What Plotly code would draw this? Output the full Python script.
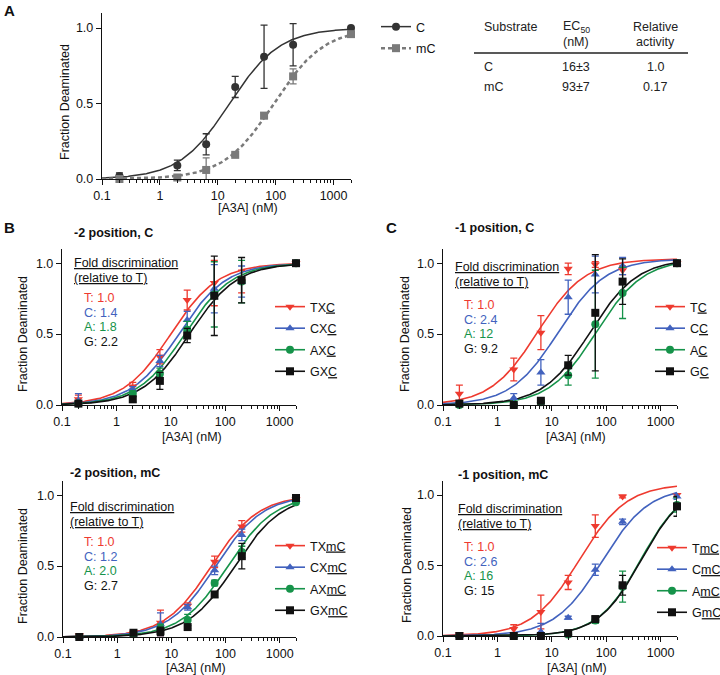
import numpy as np
import plotly.graph_objects as go

W, H = 720, 675
FONT = "Liberation Sans, Arial, sans-serif"
FS = 12.5

# ---------------- data ----------------
conc = [0.2, 2, 6.3, 20, 63, 200, 2000]
x_ticks = [0.1, 1, 10, 100, 1000]
x_ticktext = ["0.1", "1", "10", "100", "1000"]
y_ticks = [0, 0.5, 1.0]
y_ticktext = ["0.0", "0.5", "1.0"]

# Panel A
a_names = ["C", "mC"]
a_C_y = [0.02, 0.09, 0.23, 0.61, 0.81, 0.89, 1.00]
a_C_err = [0.02, 0.035, 0.07, 0.07, 0.21, 0.14, 0.0]
a_mC_y = [0.00, 0.01, 0.06, 0.16, 0.42, 0.68, 0.96]
a_mC_err = [0.01, 0.01, 0.08, 0.01, 0.02, 0.05, 0.01]
a_ec50 = [16, 93]
a_top = [1.0, 1.0]
a_hill = [1.0, 1.0]

table_substrate = ["C", "mC"]
table_ec50 = ["16±3", "93±7"]
table_rel = ["1.0", "0.17"]

# Panel B top: -2 position, C
b1_names = ["TX<u>C</u>", "CX<u>C</u>", "AX<u>C</u>", "GX<u>C</u>"]
b1_T = [0.04, 0.13, 0.34, 0.74, 0.86, 0.87, 1.00]
b1_C = [0.03, 0.11, 0.31, 0.60, 0.82, 0.87, 1.00]
b1_A = [0.01, 0.08, 0.22, 0.53, 0.78, 0.87, 1.00]
b1_G = [0.01, 0.04, 0.17, 0.49, 0.77, 0.88, 1.00]
b1_T_err = [0.03, 0.03, 0.05, 0.07, 0.16, 0.08, 0.0]
b1_C_err = [0.05, 0.02, 0.04, 0.06, 0.17, 0.11, 0.0]
b1_A_err = [0.01, 0.02, 0.04, 0.06, 0.23, 0.15, 0.0]
b1_G_err = [0.01, 0.02, 0.06, 0.05, 0.28, 0.16, 0.0]
b1_ec50 = [10, 14, 18, 22]
b1_top = [1.0, 1.0, 1.0, 1.0]
b1_hill = [1.0, 1.0, 1.0, 1.0]
b1_fold = ["T: 1.0", "C: 1.4", "A: 1.8", "G: 2.2"]

# Panel C top: -1 position, C
c1_names = ["T<u>C</u>", "C<u>C</u>", "A<u>C</u>", "G<u>C</u>"]
c1_T = [0.08, 0.25, 0.51, 0.96, 0.99, 0.95, 1.00]
c1_C = [0.01, 0.05, 0.23, 0.76, 0.92, 0.98, 1.00]
c1_A = [0.00, 0.00, 0.02, 0.21, 0.57, 0.79, 1.00]
c1_G = [0.01, 0.00, 0.03, 0.28, 0.65, 0.87, 1.00]
c1_T_err = [0.06, 0.08, 0.12, 0.04, 0.02, 0.03, 0.0]
c1_C_err = [0.01, 0.03, 0.09, 0.12, 0.13, 0.06, 0.0]
c1_A_err = [0.0, 0.0, 0.01, 0.07, 0.38, 0.18, 0.0]
c1_G_err = [0.0, 0.0, 0.01, 0.07, 0.41, 0.16, 0.0]
c1_ec50 = [5.5, 13.2, 66, 51]
c1_top = [1.03, 1.03, 1.03, 1.03]
c1_hill = [1.0, 1.0, 1.0, 1.0]
c1_fold = ["T: 1.0", "C: 2.4", "A: 12", "G: 9.2"]

# Panel B bottom: -2 position, mC
b2_names = ["TX<u>mC</u>", "CX<u>mC</u>", "AX<u>mC</u>", "GX<u>mC</u>"]
b2_T = [0.01, 0.03, 0.10, 0.22, 0.53, 0.78, 0.97]
b2_C = [0.00, 0.01, 0.09, 0.21, 0.47, 0.72, 0.97]
b2_A = [0.00, 0.02, 0.06, 0.12, 0.38, 0.60, 0.95]
b2_G = [0.00, 0.03, 0.04, 0.07, 0.30, 0.57, 0.98]
b2_T_err = [0.01, 0.01, 0.09, 0.02, 0.04, 0.04, 0.01]
b2_C_err = [0.01, 0.01, 0.08, 0.02, 0.03, 0.04, 0.01]
b2_A_err = [0.0, 0.01, 0.03, 0.04, 0.02, 0.04, 0.02]
b2_G_err = [0.0, 0.01, 0.03, 0.01, 0.02, 0.09, 0.02]
b2_ec50 = [55, 66, 110, 148]
b2_top = [1.0, 1.0, 1.0, 1.0]
b2_hill = [1.0, 1.0, 1.0, 1.0]
b2_fold = ["T: 1.0", "C: 1.2", "A: 2.0", "G: 2.7"]

# Panel C bottom: -1 position, mC
c2_names = ["T<u>mC</u>", "C<u>mC</u>", "A<u>mC</u>", "G<u>mC</u>"]
c2_T = [0.01, 0.05, 0.17, 0.38, 0.78, 0.99, 1.00]
c2_C = [0.00, 0.00, 0.03, 0.13, 0.47, 0.81, 0.99]
c2_A = [0.00, 0.00, 0.00, 0.01, 0.11, 0.35, 0.93]
c2_G = [0.00, 0.00, 0.00, 0.02, 0.12, 0.36, 0.92]
c2_T_err = [0.01, 0.03, 0.12, 0.05, 0.08, 0.01, 0.01]
c2_C_err = [0.0, 0.0, 0.06, 0.01, 0.04, 0.02, 0.02]
c2_A_err = [0.0, 0.0, 0.0, 0.01, 0.02, 0.11, 0.05]
c2_G_err = [0.0, 0.0, 0.0, 0.02, 0.02, 0.07, 0.07]
c2_ec50 = [32, 83, 430, 440]
c2_top = [1.08, 1.06, 1.08, 1.08]
c2_hill = [1.0, 1.0, 1.1, 1.1]
c2_fold = ["T: 1.0", "C: 2.6", "A: 16", "G: 15"]

# ---------------- style ----------------
COLORS = ["#EE3A2F", "#4262BE", "#16934A", "#111111"]
SYMBOLS = ["triangle-down", "triangle-up", "circle", "square"]
A_COLORS = ["#333333", "#7A7A7A"]
A_SYMBOLS = ["circle", "square"]
A_DASH = ["solid", "4px,3px"]
minor_ticks = [m * 10.0 ** k for k in range(-1, 4) for m in range(2, 10) if m * 10.0 ** k <= 2000]


def px_x(p):
    return p / W


def px_y(p):
    return 1 - p / H


def hill(x, ec50, top, n):
    return top * x ** n / (x ** n + ec50 ** n)


xfit = np.logspace(-1, np.log10(2000), 300)

fig = go.Figure()

panels = [
    dict(ax="", xd=(102, 351), yd=(13, 179), legend="legend",
         names=a_names, ys=[a_C_y, a_mC_y], errs=[a_C_err, a_mC_err],
         ec50=a_ec50, top=a_top, n=a_hill, colors=A_COLORS, symbols=A_SYMBOLS,
         dash=A_DASH, lw=[1.5, 2.5], leg=(376, 12)),
    dict(ax="2", xd=(62, 296), yd=(249, 405), legend="legend2",
         names=b1_names, ys=[b1_T, b1_C, b1_A, b1_G],
         errs=[b1_T_err, b1_C_err, b1_A_err, b1_G_err],
         ec50=b1_ec50, top=b1_top, n=b1_hill, colors=COLORS, symbols=SYMBOLS,
         dash=["solid"] * 4, lw=[1.6] * 4, leg=(270, 292)),
    dict(ax="3", xd=(443, 677), yd=(249, 405), legend="legend3",
         names=c1_names, ys=[c1_T, c1_C, c1_A, c1_G],
         errs=[c1_T_err, c1_C_err, c1_A_err, c1_G_err],
         ec50=c1_ec50, top=c1_top, n=c1_hill, colors=COLORS, symbols=SYMBOLS,
         dash=["solid"] * 4, lw=[1.6] * 4, leg=(650, 292)),
    dict(ax="4", xd=(63, 296), yd=(481, 637), legend="legend4",
         names=b2_names, ys=[b2_T, b2_C, b2_A, b2_G],
         errs=[b2_T_err, b2_C_err, b2_A_err, b2_G_err],
         ec50=b2_ec50, top=b2_top, n=b2_hill, colors=COLORS, symbols=SYMBOLS,
         dash=["solid"] * 4, lw=[1.6] * 4, leg=(270, 531)),
    dict(ax="5", xd=(443, 677), yd=(481, 636), legend="legend5",
         names=c2_names, ys=[c2_T, c2_C, c2_A, c2_G],
         errs=[c2_T_err, c2_C_err, c2_A_err, c2_G_err],
         ec50=c2_ec50, top=c2_top, n=c2_hill, colors=COLORS, symbols=SYMBOLS,
         dash=["solid"] * 4, lw=[1.6] * 4, leg=(652, 533)),
]

axis_common = dict(showline=True, linecolor="#111111", linewidth=1.4,
                   ticks="outside", ticklen=5, tickwidth=1.3, tickcolor="#111111",
                   showgrid=False, zeroline=False, automargin=False,
                   tickfont=dict(family=FONT, size=FS, color="#111111"))

for p in panels:
    ax = p["ax"]
    xa, ya = "x" + ax, "y" + ax
    fig.update_layout({
        "xaxis" + ax: dict(axis_common, type="log", domain=[px_x(p["xd"][0]), px_x(p["xd"][1])],
                           range=[-1, np.log10(2000)], anchor=ya,
                           tickvals=x_ticks, ticktext=x_ticktext,
                           minor=dict(ticks="outside", ticklen=3, tickwidth=1, tickcolor="#111111",
                                      tickvals=minor_ticks, showgrid=False)),
        "yaxis" + ax: dict(axis_common, domain=[px_y(p["yd"][1]), px_y(p["yd"][0])],
                           range=[0, 1.1], anchor=xa,
                           tickvals=y_ticks, ticktext=y_ticktext),
    })
    for i in range(len(p["names"])):
        fig.add_trace(go.Scatter(
            x=xfit, y=hill(xfit, p["ec50"][i], p["top"][i], p["n"][i]),
            mode="lines", line=dict(color=p["colors"][i], width=p["lw"][i], dash=p["dash"][i]),
            xaxis=xa, yaxis=ya, showlegend=False, hoverinfo="skip"))
    for i in range(len(p["names"])):
        fig.add_trace(go.Scatter(
            x=conc, y=p["ys"][i], mode="markers",
            marker=dict(symbol=p["symbols"][i], size=8, color=p["colors"][i], line=dict(width=0)),
            error_y=dict(type="data", array=p["errs"][i], color=p["colors"][i],
                         thickness=1.3, width=3.5),
            xaxis=xa, yaxis=ya, showlegend=False, cliponaxis=False))
    for i in range(len(p["names"])):
        fig.add_trace(go.Scatter(
            x=[None], y=[None], mode="lines+markers", name=p["names"][i],
            line=dict(color=p["colors"][i], width=p["lw"][i], dash=p["dash"][i]),
            marker=dict(symbol=p["symbols"][i], size=8, color=p["colors"][i]),
            xaxis=xa, yaxis=ya, legend=p["legend"], legendgroup=p["legend"] + str(i),
            showlegend=True))
    fig.update_layout({
        p["legend"]: dict(x=px_x(p["leg"][0]), y=px_y(p["leg"][1]), xanchor="left", yanchor="top",
                          bgcolor="rgba(0,0,0,0)", borderwidth=0, tracegroupgap=2.3,
                          itemwidth=30,
                          font=dict(family=FONT, size=FS, color="#111111"))
    })

annotations = []


def txt(text, x, y, size=FS, color="#111111", xanchor="left", bold=False, angle=0):
    if bold:
        text = "<b>" + text + "</b>"
    annotations.append(dict(text=text, x=px_x(x), y=px_y(y), xref="paper", yref="paper",
                            xanchor=xanchor, yanchor="middle", showarrow=False, textangle=angle,
                            font=dict(family=FONT, size=size, color=color)))


txt("A", 2, 11, size=15, bold=True)
txt("B", 2, 228, size=15, bold=True)
txt("C", 384, 227, size=15, bold=True)
txt("-2 position, C", 72, 233, bold=True)
txt("-1 position, C", 453, 228, bold=True)
txt("-2 position, mC", 68, 473, bold=True)
txt("-1 position, mC", 456, 475, bold=True)
for (cx, cy) in [(248, 208), (192, 437), (576, 437), (196, 668), (577, 668)]:
    txt("[A3A] (nM)", cx, cy, xanchor="center")
for (cx, cy) in [(65, 102), (23, 334), (405, 334), (23, 566), (407, 565)]:
    txt("Fraction Deaminated", cx, cy, xanchor="center", angle=-90)

fold_blocks = [(72, 263, 82, 298, b1_fold), (453, 267, 462, 305, c1_fold),
               (68, 507, 82, 542, b2_fold), (456, 509, 462, 547, c2_fold)]
for (hx, hy, fx, fy, folds) in fold_blocks:
    txt("<u>Fold discrimination</u>", hx, hy)
    txt("<u>(relative to T)</u>", hx, hy + 14.5)
    for i, f in enumerate(folds):
        txt(f, fx, fy + 14.7 * i, color=COLORS[i])

txt("Substrate", 482, 27, color="#222222")
txt("EC<sub>50</sub>", 576, 27, xanchor="center", color="#222222")
txt("(nM)", 576, 42, xanchor="center", color="#222222")
txt("Relative", 655, 27, xanchor="center", color="#222222")
txt("activity", 655, 42, xanchor="center", color="#222222")
for i in range(len(table_substrate)):
    txt(table_substrate[i], 482, 67 + 20 * i, color="#222222")
    txt(table_ec50[i], 576, 67 + 20 * i, xanchor="center", color="#222222")
    txt(table_rel[i], 655, 67 + 20 * i, xanchor="center", color="#222222")

fig.update_layout(
    width=W, height=H, margin=dict(l=0, r=0, t=0, b=0, autoexpand=False),
    paper_bgcolor="white", plot_bgcolor="white",
    font=dict(family=FONT, size=FS, color="#111111"),
    annotations=annotations,
    shapes=[dict(type="line", xref="paper", yref="paper", x0=px_x(474), x1=px_x(688),
                 y0=px_y(53), y1=px_y(53), line=dict(color="#222222", width=1.5))],
)

fig.write_html("out.html", config={"displayModeBar": False},
               post_script="document.body.style.margin='0';document.body.style.padding='0';")
